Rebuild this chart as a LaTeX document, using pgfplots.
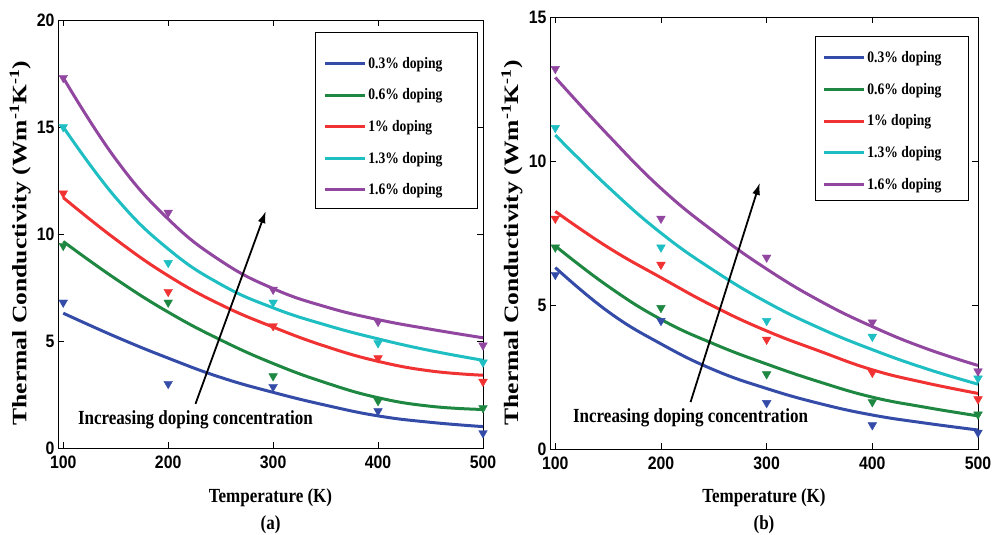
\documentclass[border=0pt]{standalone}
\usepackage{fontspec}
\setmainfont{Liberation Serif}[FakeStretch=0.85]
\newfontfamily\ylfont{Liberation Serif}
\newfontfamily\tickfont{Liberation Sans}[FakeStretch=0.88]
\usepackage{graphicx}
\usepackage{pgfplots}
\pgfplotsset{compat=1.18}
\usetikzlibrary{arrows.meta}
\definecolor{cb}{RGB}{52,76,168}
\definecolor{cg}{RGB}{30,135,65}
\definecolor{cr}{RGB}{240,50,50}
\definecolor{cc}{RGB}{30,190,195}
\definecolor{cp}{RGB}{145,70,160}
\pgfplotsset{
  myax/.style={
    scale only axis, clip mode=individual,
    xmin=95, xmax=500, ymin=0,
    xtick={100,200,300,400,500},
    tick align=inside, xtick pos=both, ytick pos=both,
    major tick length=6bp,
    tick style={black, line width=0.5bp},
    axis line style={black, line width=0.7bp},
    /pgf/number format/assume math mode=true,
    tick label style={font=\tickfont\bfseries\fontsize{18bp}{20bp}\selectfont},
    xticklabel style={yshift=-4bp},
    label style={font=\bfseries\fontsize{20bp}{23bp}\selectfont},
    xlabel={Temperature (K)},
    ylabel={\scalebox{1}[0.8]{\resizebox{365bp}{!}{\ylfont\bfseries\fontsize{21bp}{24bp}\selectfont Thermal Conductivity (Wm\textsuperscript{-1}K\textsuperscript{-1})}}},
    legend style={draw=none, fill=none, inner sep=0pt, row sep=15bp,
      nodes={inner sep=2bp},
      font=\bfseries\fontsize{16bp}{18bp}\selectfont},
    legend cell align=left,
    legend image code/.code={\draw[#1] (0bp,0bp) -- (40bp,0bp);},
  },
  cv/.style={color=#1, line width=3bp, smooth, tension=0.75},
  mk/.style={only marks, forget plot, mark=triangle*, mark size=5bp,
    mark options={rotate=180, fill=#1, draw=#1}},
}
\begin{document}
\begin{tikzpicture}
\path[use as bounding box] (-58bp,-87bp) rectangle (935bp,448bp);
% ---------------- (a)
\begin{axis}[myax, width=425bp, height=428bp, ymax=20, ytick={0,5,10,15,20},
  xlabel style={at={(axis description cs:0.5,-0.117)}, anchor=center},
  ylabel style={at={(axis description cs:-0.089,0.479)}, anchor=center},
  legend style={at={(rel axis cs:0.624,0.918)}, anchor=north west}]
\addplot[cv=cb] coordinates {(100,6.3)(150,5.2)(200,4.2)(250,3.3)(300,2.6)(350,2.0)(400,1.5)(450,1.2)(500,1.0)};
\addplot[cv=cg] coordinates {(100,9.65)(150,7.9)(200,6.35)(250,5.05)(300,3.95)(350,3.05)(400,2.35)(450,1.95)(500,1.8)};
\addplot[cv=cr] coordinates {(100,11.7)(150,9.75)(200,8.05)(250,6.7)(300,5.65)(350,4.75)(400,4.05)(450,3.6)(500,3.4)};
\addplot[cv=cc] coordinates {(100,15.0)(150,11.7)(200,9.3)(250,7.65)(300,6.55)(350,5.75)(400,5.1)(450,4.55)(500,4.1)};
\addplot[cv=cp] coordinates {(100,17.3)(150,13.5)(200,10.7)(250,8.75)(300,7.45)(350,6.6)(400,6.0)(450,5.55)(500,5.15)};
\addplot[mk=cb] coordinates {(100,6.8)(200,3.0)(300,2.86)(400,1.73)(500,0.7)};
\addplot[mk=cg] coordinates {(100,9.45)(200,6.8)(300,3.36)(400,2.2)(500,1.87)};
\addplot[mk=cr] coordinates {(100,11.9)(200,7.3)(300,5.7)(400,4.2)(500,3.1)};
\addplot[mk=cc] coordinates {(100,15.0)(200,8.65)(300,6.8)(400,4.9)(500,4.0)};
\addplot[mk=cp] coordinates {(100,17.3)(200,11.0)(300,7.4)(400,5.9)(500,4.8)};
\legend{0.3\% doping\hspace{30bp},0.6\% doping,1\% doping,1.3\% doping,1.6\% doping}
\draw[black, line width=0.6bp] (rel axis cs:0.605,0.561) rectangle (rel axis cs:0.986,0.972);
\draw[black, line width=1.8bp, -{Latex[length=12bp,width=8bp]}] (axis cs:226,2.06) -- (axis cs:293,11.07);
\node[font=\bfseries\fontsize{20bp}{23bp}\selectfont] at (axis cs:226,1.3) {Increasing doping concentration};
\node[font=\bfseries\fontsize{20bp}{23bp}\selectfont] at (axis description cs:0.5,-0.180) {(a)};
\end{axis}
% ---------------- (b)
\begin{axis}[myax, at={(492bp,-1bp)}, width=428bp, height=432bp, ymax=15, ytick={0,5,10,15},
  xlabel style={at={(axis description cs:0.5,-0.113)}, anchor=center},
  ylabel style={at={(axis description cs:-0.089,0.477)}, anchor=center},
  legend style={at={(rel axis cs:0.636,0.925)}, anchor=north west}]
\addplot[cv=cb] coordinates {(100,6.3)(150,4.77)(200,3.65)(250,2.75)(300,2.1)(350,1.58)(400,1.18)(450,0.9)(500,0.66)};
\addplot[cv=cg] coordinates {(100,7.05)(150,5.65)(200,4.5)(250,3.65)(300,2.95)(350,2.33)(400,1.8)(450,1.45)(500,1.15)};
\addplot[cv=cr] coordinates {(100,8.25)(150,7.0)(200,5.95)(250,4.95)(300,4.1)(350,3.4)(400,2.75)(450,2.3)(500,1.93)};
\addplot[cv=cc] coordinates {(100,10.9)(150,9.1)(200,7.5)(250,6.2)(300,5.1)(350,4.2)(400,3.45)(450,2.8)(500,2.25)};
\addplot[cv=cp] coordinates {(100,12.9)(150,10.9)(200,9.05)(250,7.55)(300,6.25)(350,5.15)(400,4.25)(450,3.5)(500,2.9)};
\addplot[mk=cb] coordinates {(100,6.05)(200,4.45)(300,1.6)(400,0.83)(500,0.57)};
\addplot[mk=cg] coordinates {(100,7.0)(200,4.9)(300,2.6)(400,1.63)(500,1.2)};
\addplot[mk=cr] coordinates {(100,8.0)(200,6.4)(300,3.8)(400,2.65)(500,1.73)};
\addplot[mk=cc] coordinates {(100,11.15)(200,7.0)(300,4.45)(400,3.9)(500,2.45)};
\addplot[mk=cp] coordinates {(100,13.2)(200,8.0)(300,6.65)(400,4.4)(500,2.7)};
\legend{0.3\% doping\hspace{25bp},0.6\% doping,1\% doping,1.3\% doping,1.6\% doping}
\draw[black, line width=0.6bp] (rel axis cs:0.619,0.576) rectangle (rel axis cs:0.977,0.956);
\draw[black, line width=1.8bp, -{Latex[length=12bp,width=8bp]}] (axis cs:228,1.63) -- (axis cs:293.5,9.24);
\node[font=\bfseries\fontsize{20bp}{23bp}\selectfont] at (axis cs:228,1.1) {Increasing doping concentration};
\node[font=\bfseries\fontsize{20bp}{23bp}\selectfont] at (axis description cs:0.5,-0.176) {(b)};
\end{axis}
\end{tikzpicture}
\end{document}
